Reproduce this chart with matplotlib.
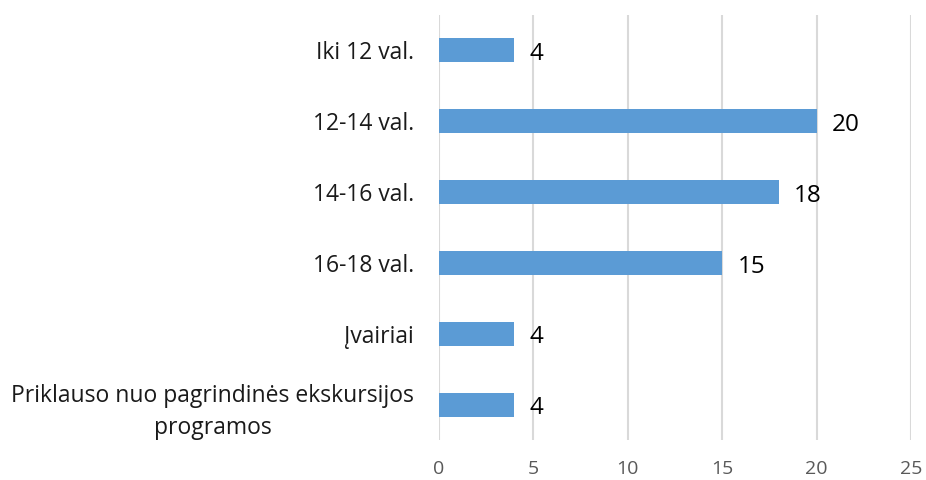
import matplotlib.pyplot as plt
import numpy as np

categories = [
    "Iki 12 val.",
    "12-14 val.",
    "14-16 val.",
    "16-18 val.",
    "Įvairiai",
    "Priklauso nuo pagrindinės ekskursijos\nprogramos",
]
counts = [4, 20, 18, 15, 4, 4]

plt.rcParams['font.family'] = ['Open Sans', 'DejaVu Sans']

fig = plt.figure(figsize=(9.26, 4.8), dpi=100)
ax = fig.add_axes([0.474, 0.083, 0.51, 0.886])

y = np.arange(len(categories))
bars = ax.barh(y, counts, height=0.34, color='#5b9bd5', zorder=3)

# value labels just past the end of each bar
for rect, v in zip(bars, counts):
    ax.text(rect.get_width() + 0.8, rect.get_y() + rect.get_height() / 2 + 0.05,
            str(v), va='center', ha='left', fontsize=17.5, color='black')

ax.set_xlim(0, 25)
ax.set_ylim(len(categories) - 0.5, -0.5)
ax.set_xticks(range(0, 26, 5))
ax.set_yticks(y)
ax.set_yticklabels(categories, fontsize=16.5, color='#1a1a1a',
                   multialignment='center', linespacing=1.45)

ax.grid(axis='x', color='#d9d9d9', linewidth=1.5, zorder=0)
for s in ax.spines.values():
    s.set_visible(False)
ax.tick_params(axis='both', length=0)
ax.tick_params(axis='x', labelsize=14, labelcolor='#595959', pad=14)
ax.tick_params(axis='y', pad=18)

fig.savefig('out.png', dpi=100)
